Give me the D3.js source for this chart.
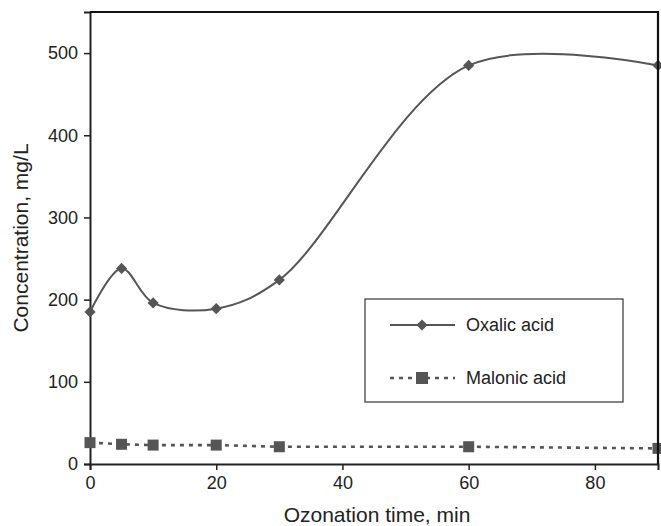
<!DOCTYPE html>
<html><head><meta charset="utf-8">
<script src="https://cdn.jsdelivr.net/npm/d3@7/dist/d3.min.js"></script>
<style>body{margin:0;background:#fff}svg{display:block;font-family:"Liberation Sans",Arial,sans-serif}</style>
</head><body><svg id="c" width="661" height="526"></svg>
<script>
const times = [0, 5, 10, 20, 30, 60, 90];
const oxalic = [185, 238, 196, 189, 224, 485, 485];
const malonic = [26, 24, 23, 23, 21, 21, 19];
const xTicks = [0, 20, 40, 60, 80];
const yTicks = [0, 100, 200, 300, 400, 500];
const seriesNames = ["Oxalic acid", "Malonic acid"];

const svg = d3.select("#c");
const L = 90, R = 658, T = 12, B = 464;
const x = d3.scaleLinear().domain([0, 90]).range([L, R]);
const y = d3.scaleLinear().domain([0, 550]).range([B, T]);
const col = "#555";

// axes
const yAx = svg.append("g").attr("transform", `translate(${L},0)`)
  .call(d3.axisLeft(y).tickValues(yTicks).tickSize(6).tickPadding(6));
const xAx = svg.append("g").attr("transform", `translate(0,${B})`)
  .call(d3.axisBottom(x).tickValues(xTicks).tickSize(6).tickPadding(6));
[yAx, xAx].forEach(g => {
  g.select(".domain").attr("stroke", "#222").attr("stroke-width", 2);
  g.selectAll(".tick line").attr("stroke", "#222").attr("stroke-width", 1.5);
  g.selectAll(".tick text").attr("fill", "#222").style("font-size", "18px")
    .style("font-family", '"Liberation Sans",Arial,sans-serif');
});
// axis titles
svg.append("text").attr("x", 377).attr("y", 522).attr("text-anchor", "middle")
  .attr("fill", "#222").style("font-size", "21px").text("Ozonation time, min");
svg.append("text").attr("transform", "translate(28,238) rotate(-90)").attr("text-anchor", "middle")
  .attr("fill", "#222").style("font-size", "21px").text("Concentration, mg/L");

// series
const line = d3.line().curve(d3.curveCatmullRom.alpha(0.5));
const oxPts = times.map((t, i) => [x(t), y(oxalic[i])]);
const maPts = times.map((t, i) => [x(t), y(malonic[i])]);
svg.append("path").attr("d", line(oxPts)).attr("fill", "none").attr("stroke", col).attr("stroke-width", 2);
svg.append("path").attr("d", d3.line()(maPts)).attr("fill", "none").attr("stroke", col)
  .attr("stroke-width", 2.6).attr("stroke-dasharray", "4,5");
const diamond = d3.symbol().type(d3.symbolDiamond2).size(80);
svg.selectAll(".ox").data(oxPts).join("path").attr("d", diamond)
  .attr("transform", d => `translate(${d[0]},${d[1]})`).attr("fill", col);
svg.selectAll(".ma").data(maPts).join("rect")
  .attr("x", d => d[0] - 5.5).attr("y", d => d[1] - 5.5).attr("width", 11).attr("height", 11).attr("fill", col);

// frame (top, right)
svg.append("path").attr("d", `M${L},${T}H${R}V${B}`).attr("fill", "none").attr("stroke", "#111").attr("stroke-width", 2.2);

// legend
const lg = svg.append("g");
lg.append("rect").attr("x", 365).attr("y", 299).attr("width", 258).attr("height", 103)
  .attr("fill", "#fff").attr("stroke", "#444").attr("stroke-width", 1.3);
lg.append("line").attr("x1", 390).attr("x2", 455).attr("y1", 325).attr("y2", 325).attr("stroke", col).attr("stroke-width", 2);
lg.append("path").attr("d", diamond).attr("transform", "translate(422,325)").attr("fill", col);
lg.append("line").attr("x1", 390).attr("x2", 455).attr("y1", 378).attr("y2", 378).attr("stroke", col)
  .attr("stroke-width", 2.6).attr("stroke-dasharray", "4,5");
lg.append("rect").attr("x", 416).attr("y", 372).attr("width", 12).attr("height", 12).attr("fill", col);
seriesNames.forEach((s, i) => {
  lg.append("text").attr("x", 466).attr("y", [325, 378][i]).attr("dy", "0.36em")
    .attr("fill", "#222").style("font-size", "18px").text(s);
});
</script></body></html>
